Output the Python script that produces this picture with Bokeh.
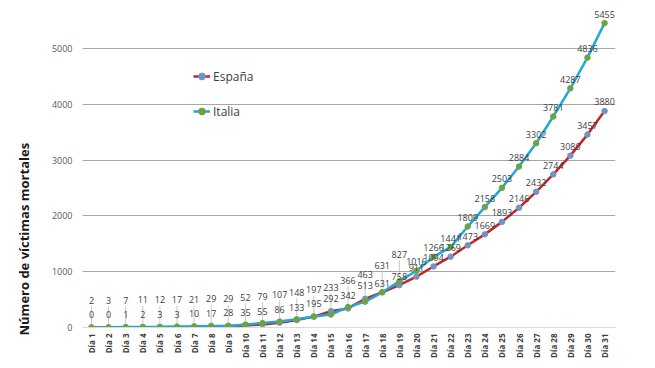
import math
from bokeh.plotting import figure
from bokeh.models import ColumnDataSource, FixedTicker, Legend, LegendItem, Title
from bokeh.core.properties import value
from bokeh.embed import file_html
from bokeh.resources import INLINE

days = list(range(1, 32))
day_labels = ["Día %d" % d for d in days]
espana = [0, 0, 1, 2, 3, 3, 10, 17, 28, 35, 55, 86, 133, 195, 292, 342, 513, 631,
          758, 911, 1094, 1269, 1473, 1669, 1893, 2146, 2432, 2744, 3080, 3457, 3880]
italia = [2, 3, 7, 11, 12, 17, 21, 29, 29, 52, 79, 107, 148, 197, 233, 366, 463, 631,
          827, 1016, 1266, 1441, 1809, 2158, 2503, 2884, 3302, 3781, 4287, 4836, 5455]
y_ticks = [0, 1000, 2000, 3000, 4000, 5000]

W, H = 650, 362
BL, BR, BB, BT = 82, 35, 35, 0
y_end = 5860
frame_h = H - BB - BT
dpp = y_end / frame_h  # data units per pixel

p = figure(width=W, height=H, output_backend="svg", toolbar_location=None,
           x_range=(0.474, 31.64), y_range=(0, y_end),
           min_border_left=BL, min_border_right=BR, min_border_bottom=BB, min_border_top=BT)
p.outline_line_color = None
p.background_fill_color = "white"
p.border_fill_color = "white"

font = "Open Sans"

# axes
p.xaxis.ticker = FixedTicker(ticks=days)
p.xaxis.major_label_overrides = {d: lab for d, lab in zip(days, day_labels)}
p.xaxis.major_label_orientation = math.pi / 2
p.xaxis.major_label_text_font = font
p.xaxis.major_label_text_font_size = "8px"
p.xaxis.major_label_text_font_style = "bold"
p.xaxis.major_label_text_color = "#404040"
p.xaxis.major_label_standoff = 6
p.xaxis.axis_line_color = "#d9d9d9"
p.xaxis.major_tick_line_color = None
p.xaxis.major_tick_out = 0
p.xaxis.major_tick_in = 0
p.xaxis.minor_tick_line_color = None
p.xaxis.minor_tick_out = 0
p.xgrid.grid_line_color = None

p.yaxis.ticker = FixedTicker(ticks=y_ticks)
p.yaxis.major_label_text_font = font
p.yaxis.major_label_text_font_size = "9px"
p.yaxis.major_label_text_color = "#595959"
p.yaxis.major_label_standoff = 10
p.yaxis.axis_line_color = None
p.yaxis.major_tick_line_color = None
p.yaxis.major_tick_out = 0
p.yaxis.major_tick_in = 0
p.yaxis.minor_tick_line_color = None
p.yaxis.minor_tick_out = 0
p.ygrid.grid_line_color = "#a6a6a6"
p.ygrid.grid_line_width = 1

t = Title(text="Número de víctimas mortales", align="left", offset=-8, standoff=27,
          vertical_align="top",
          text_font=font, text_font_size="13px", text_font_style="bold",
          text_color="#1a1a1a")
p.add_layout(t, "left")

it_off = [-27 if d <= 19 else -9 for d in days]
es_off = [-13 if d <= 17 else -9 for d in days]

src = ColumnDataSource(dict(
    x=days, es=espana, it=italia,
    es_txt=[str(v) for v in espana], it_txt=[str(v) for v in italia],
    it_off=it_off, es_off=es_off,
    lead_y1=[v + (-o - 6) * dpp if d <= 19 else v for v, o, d in zip(italia, it_off, days)],
    lead_y0=[v + 3 * dpp for v in italia],
))

# leader lines for lifted labels
p.segment(x0="x", y0="lead_y0", x1="x", y1="lead_y1", source=src,
          line_color="#b0b0b0", line_width=0.7)

es_line = p.line("x", "es", source=src, line_color="#c0282d", line_width=2.5)
es_pts = p.scatter("x", "es", source=src, size=5.5, fill_color="#7393c4", line_color="#7393c4")
it_line = p.line("x", "it", source=src, line_color="#1fa9d6", line_width=2.5)
it_pts = p.scatter("x", "it", source=src, size=5.5, fill_color="#70a33f", line_color="#70a33f")

p.text("x", "es", text="es_txt", source=src, y_offset="es_off",
       text_font=value(font), text_font_size="9px", text_color="#404040",
       text_align="center", text_baseline="middle")
p.text("x", "it", text="it_txt", source=src, y_offset="it_off",
       text_font=value(font), text_font_size="9px", text_color="#404040",
       text_align="center", text_baseline="middle")

legend = Legend(items=[LegendItem(label="España", renderers=[es_line, es_pts]),
                       LegendItem(label="Italia", renderers=[it_line, it_pts])],
                location=(111, 206), orientation="vertical")
legend.background_fill_alpha = 0
legend.border_line_color = None
legend.label_text_font = font
legend.label_text_font_size = "12px"
legend.label_text_color = "#404040"
legend.glyph_width = 17
legend.glyph_height = 20
legend.label_height = 20
legend.spacing = 15
legend.padding = 5
legend.margin = 0
legend.label_standoff = 3
p.add_layout(legend, "center")

open("out.html", "w").write(file_html(p, INLINE))
